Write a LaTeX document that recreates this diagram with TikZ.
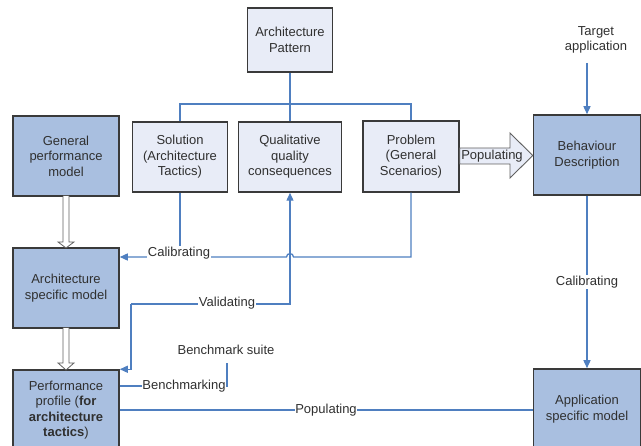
\documentclass[tikz,border=0pt]{standalone}
\usepackage{fontspec}
\setmainfont{Liberation Sans}
\usetikzlibrary{arrows.meta}
\definecolor{linec}{HTML}{4F7FC0}
\definecolor{bordc}{HTML}{3A3A3A}
\definecolor{lightf}{HTML}{E8ECF7}
\definecolor{darkf}{HTML}{A9BFE0}
\definecolor{txtc}{HTML}{303030}
\definecolor{hollowc}{HTML}{606060}
\begin{document}
\begin{tikzpicture}[x=1pt,y=-1pt,
  every node/.style={font=\fontsize{13}{15.5}\selectfont, text=txtc},
  box/.style={draw=bordc, line width=1.5pt, align=center, inner sep=0pt},
  lbox/.style={box, fill=lightf},
  dbox/.style={box, fill=darkf},
  conn/.style={draw=linec, line width=1.3pt},
  arr/.style={conn, -{Triangle[length=8pt,width=7pt]}},
  lab/.style={fill=white, inner sep=0.6pt},
  hollow/.style={draw=hollowc, fill=white, line width=0.8pt, line join=miter}
]
\useasboundingbox (0,0) rectangle (641,446);

% boxes
\node[lbox, minimum width=85pt, minimum height=64pt] (pat) at (290,40) {Architecture\\Pattern};
\node[dbox, minimum width=106pt, minimum height=80pt] (gpm) at (66,156) {General\\performance\\model};
\node[lbox, minimum width=95pt, minimum height=70pt] (sol) at (180,157) {Solution\\(Architecture\\Tactics)};
\node[lbox, minimum width=103pt, minimum height=70pt] (qual) at (290,157) {Qualitative\\quality\\consequences};
\node[lbox, minimum width=96pt, minimum height=71pt] (prob) at (411,156.5) {Problem\\(General\\Scenarios)};
\node[dbox, minimum width=107pt, minimum height=80pt] (beh) at (587,155) {Behaviour\\Description};
\node[dbox, minimum width=106pt, minimum height=80pt] (asm) at (66,288) {Architecture\\specific model};
\node[dbox, minimum width=106pt, minimum height=80pt] (ppf) at (66,410) {Performance\\profile (\textbf{for}\\\textbf{architecture}\\\textbf{tactics})};
\node[dbox, minimum width=107pt, minimum height=80pt] (asp) at (587,409) {Application\\specific model};

% free texts
\node[align=center] (tgt) at (596,40) {Target\\application};
\node (bench) at (226,350) {Benchmark suite};

% pattern to its three parts
\coordinate (bus) at (290,104);
\draw[conn] (pat.south) -- (qual.north);
\draw[conn] (sol.north) |- (bus) -| (prob.north);

% calibrating the architecture specific model
\coordinate (calj) at (180,257);
\draw[conn] (sol.south) -- (calj);
\draw[arr] (prob.south) |- (293.5,257) .. controls (293.5,252.5) and (286.5,252.5) .. (286.5,257) -- (asm.east |- calj);
\node[lab] at (179,253) {Calibrating};

% validating
\coordinate (valc) at (131,304);
\draw[arr] (valc) |- (ppf.north east);
\draw[arr] (valc) -| (qual.south);
\node[lab] at (227,303.5) {Validating};

% benchmarking
\coordinate (bcorner) at (227,386);
\draw[conn] (ppf.east |- bcorner) -- (bcorner) -- (227,363);
\node[lab, inner sep=0.3pt] at (184,386) {Benchmarking};

% populating the application specific model
\draw[conn] (ppf.east |- 0,410) -- (asp.west |- 0,410);
\node[lab] at (326,410) {Populating};

% target application and calibrating on the right
\coordinate (tgtfoot) at (587,63);
\draw[arr] (tgtfoot) -- (beh.north);
\draw[arr] (beh.south) -- (asp.north);
\node[lab] at (587,282) {Calibrating};

% big hollow arrow from problem to behaviour
\draw[draw=hollowc, fill=lightf, line width=0.9pt, line join=miter]
  (prob.east |- 0,148) -- (510,148) -- (510,133) -- (beh.west |- 0,155.5)
  -- (510,178) -- (510,164) -- (prob.east |- 0,164) -- cycle;
\node at (492,156) {Populating};

% hollow double-line arrows down the left column
\draw[hollow] (63,196) -- (63,242) -- (58,242) -- (66,248) -- (74,242) -- (69,242) -- (69,196);
\draw[hollow] (63,328) -- (63,363) -- (58,363) -- (66,370) -- (74,363) -- (69,363) -- (69,328);
\end{tikzpicture}
\end{document}
